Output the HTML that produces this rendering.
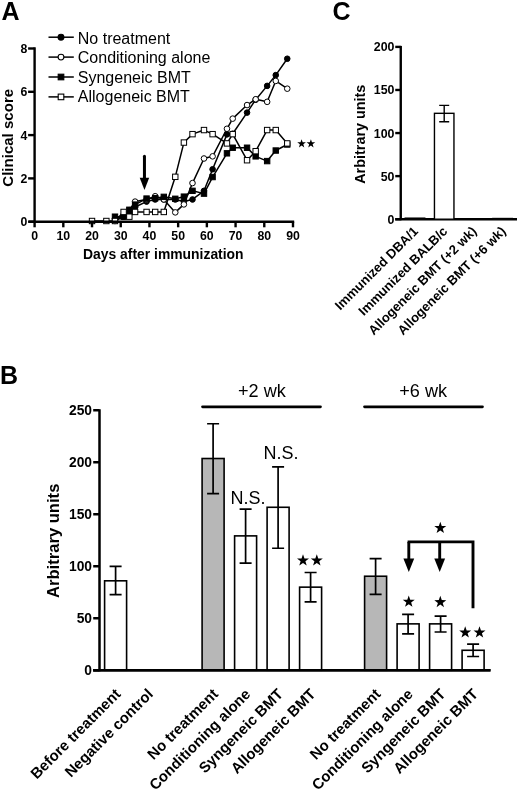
<!DOCTYPE html>
<html><head><meta charset="utf-8"><title>Figure</title>
<style>html,body{margin:0;padding:0;background:#fff;}svg{display:block;will-change:transform;}</style></head>
<body>
<svg width="520" height="791" viewBox="0 0 520 791">
<rect width="520" height="791" fill="#fff"/>
<text x="1.4" y="19.6" font-family="Liberation Sans, sans-serif" font-size="25" font-weight="bold">A</text>
<text x="163.30" y="259.30" font-family="Liberation Sans, sans-serif" font-size="13.9" font-weight="bold" text-anchor="middle">Days after immunization</text>
<text transform="translate(13.3,137.8) rotate(-90)" font-family="Liberation Sans, sans-serif" font-size="15.05" font-weight="bold" text-anchor="middle">Clinical score</text>
<polyline points="114.99,218.84 123.60,216.69 129.34,212.38 135.09,206.99 146.57,201.60 155.18,199.45 163.79,199.45 175.28,199.45 183.89,201.60 192.50,199.45 203.99,190.83 212.60,169.28 226.96,134.37 232.70,133.72 247.05,112.60 255.67,99.67 267.15,85.88 275.76,75.11 287.25,58.73" fill="none" stroke="#000" stroke-width="1.5" stroke-linejoin="round"/>
<circle cx="114.99" cy="218.84" r="2.8" fill="#000" stroke="#000" stroke-width="1"/>
<circle cx="123.60" cy="216.69" r="2.8" fill="#000" stroke="#000" stroke-width="1"/>
<circle cx="129.34" cy="212.38" r="2.8" fill="#000" stroke="#000" stroke-width="1"/>
<circle cx="135.09" cy="206.99" r="2.8" fill="#000" stroke="#000" stroke-width="1"/>
<circle cx="146.57" cy="201.60" r="2.8" fill="#000" stroke="#000" stroke-width="1"/>
<circle cx="155.18" cy="199.45" r="2.8" fill="#000" stroke="#000" stroke-width="1"/>
<circle cx="163.79" cy="199.45" r="2.8" fill="#000" stroke="#000" stroke-width="1"/>
<circle cx="175.28" cy="199.45" r="2.8" fill="#000" stroke="#000" stroke-width="1"/>
<circle cx="183.89" cy="201.60" r="2.8" fill="#000" stroke="#000" stroke-width="1"/>
<circle cx="192.50" cy="199.45" r="2.8" fill="#000" stroke="#000" stroke-width="1"/>
<circle cx="203.99" cy="190.83" r="2.8" fill="#000" stroke="#000" stroke-width="1"/>
<circle cx="212.60" cy="169.28" r="2.8" fill="#000" stroke="#000" stroke-width="1"/>
<circle cx="226.96" cy="134.37" r="2.8" fill="#000" stroke="#000" stroke-width="1"/>
<circle cx="232.70" cy="133.72" r="2.8" fill="#000" stroke="#000" stroke-width="1"/>
<circle cx="247.05" cy="112.60" r="2.8" fill="#000" stroke="#000" stroke-width="1"/>
<circle cx="255.67" cy="99.67" r="2.8" fill="#000" stroke="#000" stroke-width="1"/>
<circle cx="267.15" cy="85.88" r="2.8" fill="#000" stroke="#000" stroke-width="1"/>
<circle cx="275.76" cy="75.11" r="2.8" fill="#000" stroke="#000" stroke-width="1"/>
<circle cx="287.25" cy="58.73" r="2.8" fill="#000" stroke="#000" stroke-width="1"/>
<polyline points="114.99,221.00 123.60,216.69 129.34,210.22 135.09,201.60 146.57,199.45 155.18,196.22 163.79,199.45 175.28,212.38 183.89,204.41 192.50,183.07 203.99,158.50 212.60,156.35 226.96,128.77 232.70,118.64 247.05,105.06 255.67,99.24 267.15,101.83 275.76,80.92 287.25,88.68" fill="none" stroke="#000" stroke-width="1.5" stroke-linejoin="round"/>
<circle cx="114.99" cy="221.00" r="2.8" fill="#fff" stroke="#000" stroke-width="1"/>
<circle cx="123.60" cy="216.69" r="2.8" fill="#fff" stroke="#000" stroke-width="1"/>
<circle cx="129.34" cy="210.22" r="2.8" fill="#fff" stroke="#000" stroke-width="1"/>
<circle cx="135.09" cy="201.60" r="2.8" fill="#fff" stroke="#000" stroke-width="1"/>
<circle cx="146.57" cy="199.45" r="2.8" fill="#fff" stroke="#000" stroke-width="1"/>
<circle cx="155.18" cy="196.22" r="2.8" fill="#fff" stroke="#000" stroke-width="1"/>
<circle cx="163.79" cy="199.45" r="2.8" fill="#fff" stroke="#000" stroke-width="1"/>
<circle cx="175.28" cy="212.38" r="2.8" fill="#fff" stroke="#000" stroke-width="1"/>
<circle cx="183.89" cy="204.41" r="2.8" fill="#fff" stroke="#000" stroke-width="1"/>
<circle cx="192.50" cy="183.07" r="2.8" fill="#fff" stroke="#000" stroke-width="1"/>
<circle cx="203.99" cy="158.50" r="2.8" fill="#fff" stroke="#000" stroke-width="1"/>
<circle cx="212.60" cy="156.35" r="2.8" fill="#fff" stroke="#000" stroke-width="1"/>
<circle cx="226.96" cy="128.77" r="2.8" fill="#fff" stroke="#000" stroke-width="1"/>
<circle cx="232.70" cy="118.64" r="2.8" fill="#fff" stroke="#000" stroke-width="1"/>
<circle cx="247.05" cy="105.06" r="2.8" fill="#fff" stroke="#000" stroke-width="1"/>
<circle cx="255.67" cy="99.24" r="2.8" fill="#fff" stroke="#000" stroke-width="1"/>
<circle cx="267.15" cy="101.83" r="2.8" fill="#fff" stroke="#000" stroke-width="1"/>
<circle cx="275.76" cy="80.92" r="2.8" fill="#fff" stroke="#000" stroke-width="1"/>
<circle cx="287.25" cy="88.68" r="2.8" fill="#fff" stroke="#000" stroke-width="1"/>
<polyline points="114.99,216.69 123.60,216.69 129.34,209.79 135.09,204.62 146.57,198.59 155.18,198.16 163.79,196.86 175.28,198.80 183.89,196.65 192.50,190.83 203.99,193.63 212.60,177.04 226.96,153.33 232.70,147.73 247.05,147.73 255.67,156.35 267.15,161.09 275.76,150.53 287.25,144.50" fill="none" stroke="#000" stroke-width="1.5" stroke-linejoin="round"/>
<rect x="112.29" y="213.99" width="5.4" height="5.4" fill="#000" stroke="#000" stroke-width="1"/>
<rect x="120.90" y="213.99" width="5.4" height="5.4" fill="#000" stroke="#000" stroke-width="1"/>
<rect x="126.64" y="207.09" width="5.4" height="5.4" fill="#000" stroke="#000" stroke-width="1"/>
<rect x="132.39" y="201.92" width="5.4" height="5.4" fill="#000" stroke="#000" stroke-width="1"/>
<rect x="143.87" y="195.89" width="5.4" height="5.4" fill="#000" stroke="#000" stroke-width="1"/>
<rect x="152.48" y="195.46" width="5.4" height="5.4" fill="#000" stroke="#000" stroke-width="1"/>
<rect x="161.09" y="194.16" width="5.4" height="5.4" fill="#000" stroke="#000" stroke-width="1"/>
<rect x="172.58" y="196.10" width="5.4" height="5.4" fill="#000" stroke="#000" stroke-width="1"/>
<rect x="181.19" y="193.95" width="5.4" height="5.4" fill="#000" stroke="#000" stroke-width="1"/>
<rect x="189.81" y="188.13" width="5.4" height="5.4" fill="#000" stroke="#000" stroke-width="1"/>
<rect x="201.29" y="190.93" width="5.4" height="5.4" fill="#000" stroke="#000" stroke-width="1"/>
<rect x="209.90" y="174.34" width="5.4" height="5.4" fill="#000" stroke="#000" stroke-width="1"/>
<rect x="224.26" y="150.63" width="5.4" height="5.4" fill="#000" stroke="#000" stroke-width="1"/>
<rect x="230.00" y="145.03" width="5.4" height="5.4" fill="#000" stroke="#000" stroke-width="1"/>
<rect x="244.35" y="145.03" width="5.4" height="5.4" fill="#000" stroke="#000" stroke-width="1"/>
<rect x="252.97" y="153.65" width="5.4" height="5.4" fill="#000" stroke="#000" stroke-width="1"/>
<rect x="264.45" y="158.39" width="5.4" height="5.4" fill="#000" stroke="#000" stroke-width="1"/>
<rect x="273.06" y="147.83" width="5.4" height="5.4" fill="#000" stroke="#000" stroke-width="1"/>
<rect x="284.55" y="141.80" width="5.4" height="5.4" fill="#000" stroke="#000" stroke-width="1"/>
<polyline points="92.02,221.00 106.38,221.00 114.99,221.00 123.60,211.95 129.34,216.69 135.09,211.95 146.57,211.95 155.18,211.95 163.79,211.95 175.28,176.82 183.89,142.56 192.50,134.15 203.99,130.06 212.60,134.15 226.96,143.42 232.70,134.15 247.05,160.23 255.67,151.18 267.15,130.06 275.76,130.06 287.25,143.42" fill="none" stroke="#000" stroke-width="1.5" stroke-linejoin="round"/>
<rect x="89.32" y="218.30" width="5.4" height="5.4" fill="#fff" stroke="#000" stroke-width="1"/>
<rect x="103.67" y="218.30" width="5.4" height="5.4" fill="#fff" stroke="#000" stroke-width="1"/>
<rect x="112.29" y="218.30" width="5.4" height="5.4" fill="#fff" stroke="#000" stroke-width="1"/>
<rect x="120.90" y="209.25" width="5.4" height="5.4" fill="#fff" stroke="#000" stroke-width="1"/>
<rect x="126.64" y="213.99" width="5.4" height="5.4" fill="#fff" stroke="#000" stroke-width="1"/>
<rect x="132.39" y="209.25" width="5.4" height="5.4" fill="#fff" stroke="#000" stroke-width="1"/>
<rect x="143.87" y="209.25" width="5.4" height="5.4" fill="#fff" stroke="#000" stroke-width="1"/>
<rect x="152.48" y="209.25" width="5.4" height="5.4" fill="#fff" stroke="#000" stroke-width="1"/>
<rect x="161.09" y="209.25" width="5.4" height="5.4" fill="#fff" stroke="#000" stroke-width="1"/>
<rect x="172.58" y="174.12" width="5.4" height="5.4" fill="#fff" stroke="#000" stroke-width="1"/>
<rect x="181.19" y="139.86" width="5.4" height="5.4" fill="#fff" stroke="#000" stroke-width="1"/>
<rect x="189.81" y="131.45" width="5.4" height="5.4" fill="#fff" stroke="#000" stroke-width="1"/>
<rect x="201.29" y="127.36" width="5.4" height="5.4" fill="#fff" stroke="#000" stroke-width="1"/>
<rect x="209.90" y="131.45" width="5.4" height="5.4" fill="#fff" stroke="#000" stroke-width="1"/>
<rect x="224.26" y="140.72" width="5.4" height="5.4" fill="#fff" stroke="#000" stroke-width="1"/>
<rect x="230.00" y="131.45" width="5.4" height="5.4" fill="#fff" stroke="#000" stroke-width="1"/>
<rect x="244.35" y="157.53" width="5.4" height="5.4" fill="#fff" stroke="#000" stroke-width="1"/>
<rect x="252.97" y="148.48" width="5.4" height="5.4" fill="#fff" stroke="#000" stroke-width="1"/>
<rect x="264.45" y="127.36" width="5.4" height="5.4" fill="#fff" stroke="#000" stroke-width="1"/>
<rect x="273.06" y="127.36" width="5.4" height="5.4" fill="#fff" stroke="#000" stroke-width="1"/>
<rect x="284.55" y="140.72" width="5.4" height="5.4" fill="#fff" stroke="#000" stroke-width="1"/>
<path d="M34.60 47.30 V222.90" stroke="#000" stroke-width="2.4" fill="none"/>
<path d="M28.60 221.70 H294.19" stroke="#000" stroke-width="2.4" fill="none"/>
<path d="M28.10 221.70 H34.60" stroke="#000" stroke-width="2.4"/>
<text x="27.30" y="226.10" font-family="Liberation Sans, sans-serif" font-size="12.3" font-weight="bold" text-anchor="end">0</text>
<path d="M28.10 178.40 H34.60" stroke="#000" stroke-width="2.4"/>
<text x="27.30" y="182.80" font-family="Liberation Sans, sans-serif" font-size="12.3" font-weight="bold" text-anchor="end">2</text>
<path d="M28.10 135.10 H34.60" stroke="#000" stroke-width="2.4"/>
<text x="27.30" y="139.50" font-family="Liberation Sans, sans-serif" font-size="12.3" font-weight="bold" text-anchor="end">4</text>
<path d="M28.10 91.80 H34.60" stroke="#000" stroke-width="2.4"/>
<text x="27.30" y="96.20" font-family="Liberation Sans, sans-serif" font-size="12.3" font-weight="bold" text-anchor="end">6</text>
<path d="M28.10 48.50 H34.60" stroke="#000" stroke-width="2.4"/>
<text x="27.30" y="52.90" font-family="Liberation Sans, sans-serif" font-size="12.3" font-weight="bold" text-anchor="end">8</text>
<path d="M34.60 221.70 V227.30" stroke="#000" stroke-width="2.4"/>
<text x="34.60" y="240.20" font-family="Liberation Sans, sans-serif" font-size="12.3" font-weight="bold" text-anchor="middle">0</text>
<path d="M63.31 221.70 V227.30" stroke="#000" stroke-width="2.4"/>
<text x="63.31" y="240.20" font-family="Liberation Sans, sans-serif" font-size="12.3" font-weight="bold" text-anchor="middle">10</text>
<path d="M92.02 221.70 V227.30" stroke="#000" stroke-width="2.4"/>
<text x="92.02" y="240.20" font-family="Liberation Sans, sans-serif" font-size="12.3" font-weight="bold" text-anchor="middle">20</text>
<path d="M120.73 221.70 V227.30" stroke="#000" stroke-width="2.4"/>
<text x="120.73" y="240.20" font-family="Liberation Sans, sans-serif" font-size="12.3" font-weight="bold" text-anchor="middle">30</text>
<path d="M149.44 221.70 V227.30" stroke="#000" stroke-width="2.4"/>
<text x="149.44" y="240.20" font-family="Liberation Sans, sans-serif" font-size="12.3" font-weight="bold" text-anchor="middle">40</text>
<path d="M178.15 221.70 V227.30" stroke="#000" stroke-width="2.4"/>
<text x="178.15" y="240.20" font-family="Liberation Sans, sans-serif" font-size="12.3" font-weight="bold" text-anchor="middle">50</text>
<path d="M206.86 221.70 V227.30" stroke="#000" stroke-width="2.4"/>
<text x="206.86" y="240.20" font-family="Liberation Sans, sans-serif" font-size="12.3" font-weight="bold" text-anchor="middle">60</text>
<path d="M235.57 221.70 V227.30" stroke="#000" stroke-width="2.4"/>
<text x="235.57" y="240.20" font-family="Liberation Sans, sans-serif" font-size="12.3" font-weight="bold" text-anchor="middle">70</text>
<path d="M264.28 221.70 V227.30" stroke="#000" stroke-width="2.4"/>
<text x="264.28" y="240.20" font-family="Liberation Sans, sans-serif" font-size="12.3" font-weight="bold" text-anchor="middle">80</text>
<path d="M292.99 221.70 V227.30" stroke="#000" stroke-width="2.4"/>
<text x="292.99" y="240.20" font-family="Liberation Sans, sans-serif" font-size="12.3" font-weight="bold" text-anchor="middle">90</text>
<path d="M48.5 37.20 H73.8" stroke="#000" stroke-width="1.5"/>
<circle cx="61" cy="37.20" r="2.9" fill="#000" stroke="#000" stroke-width="1.1"/>
<text x="77.8" y="43.50" font-family="Liberation Sans, sans-serif" font-size="16">No treatment</text>
<path d="M48.5 57.10 H73.8" stroke="#000" stroke-width="1.5"/>
<circle cx="61" cy="57.10" r="2.9" fill="#fff" stroke="#000" stroke-width="1.1"/>
<text x="77.8" y="63.15" font-family="Liberation Sans, sans-serif" font-size="16">Conditioning alone</text>
<path d="M48.5 77.00 H73.8" stroke="#000" stroke-width="1.5"/>
<rect x="58.2" y="74.20" width="5.6" height="5.6" fill="#000" stroke="#000" stroke-width="1.1"/>
<text x="77.8" y="82.80" font-family="Liberation Sans, sans-serif" font-size="16">Syngeneic BMT</text>
<path d="M48.5 96.90 H73.8" stroke="#000" stroke-width="1.5"/>
<rect x="58.2" y="94.10" width="5.6" height="5.6" fill="#fff" stroke="#000" stroke-width="1.1"/>
<text x="77.8" y="102.45" font-family="Liberation Sans, sans-serif" font-size="16">Allogeneic BMT</text>
<path d="M144.45 156.2 V179" stroke="#000" stroke-width="3" stroke-linecap="round"/>
<polygon points="139.7,177.7 149.2,177.7 144.45,190" fill="#000"/>
<polygon points="301.60,139.15 302.67,142.23 305.93,142.29 303.33,144.26 304.27,147.38 301.60,145.52 298.93,147.38 299.87,144.26 297.27,142.29 300.53,142.23" fill="#000"/>
<polygon points="310.90,139.15 311.97,142.23 315.23,142.29 312.63,144.26 313.57,147.38 310.90,145.52 308.23,147.38 309.17,144.26 306.57,142.29 309.83,142.23" fill="#000"/>
<text x="332.6" y="19.5" font-family="Liberation Sans, sans-serif" font-size="25" font-weight="bold">C</text>
<path d="M400.75 45.90 V220.20" stroke="#000" stroke-width="2.4"/>
<path d="M395.25 219.20 H517.00" stroke="#000" stroke-width="2.4"/>
<path d="M395.25 219.20 H400.75" stroke="#000" stroke-width="2.4"/>
<text x="394.45" y="223.70" font-family="Liberation Sans, sans-serif" font-size="12.4" font-weight="bold" text-anchor="end">0</text>
<path d="M395.25 176.12 H400.75" stroke="#000" stroke-width="2.4"/>
<text x="394.45" y="180.62" font-family="Liberation Sans, sans-serif" font-size="12.4" font-weight="bold" text-anchor="end">50</text>
<path d="M395.25 133.05 H400.75" stroke="#000" stroke-width="2.4"/>
<text x="394.45" y="137.55" font-family="Liberation Sans, sans-serif" font-size="12.4" font-weight="bold" text-anchor="end">100</text>
<path d="M395.25 89.97 H400.75" stroke="#000" stroke-width="2.4"/>
<text x="394.45" y="94.47" font-family="Liberation Sans, sans-serif" font-size="12.4" font-weight="bold" text-anchor="end">150</text>
<path d="M395.25 46.90 H400.75" stroke="#000" stroke-width="2.4"/>
<text x="394.45" y="51.40" font-family="Liberation Sans, sans-serif" font-size="12.4" font-weight="bold" text-anchor="end">200</text>
<text transform="translate(365.4,134.2) rotate(-90)" font-family="Liberation Sans, sans-serif" font-size="14.4" font-weight="bold" text-anchor="middle">Arbitrary units</text>
<rect x="405.25" y="218.17" width="19.5" height="1.03" fill="#fff" stroke="#000" stroke-width="1.4"/>
<rect x="434.45" y="113.32" width="19.5" height="105.88" fill="#fff" stroke="#000" stroke-width="1.4"/>
<rect x="492.85" y="218.51" width="19.5" height="0.69" fill="#fff" stroke="#000" stroke-width="1.4"/>
<path d="M444.2 105.40 V121.68 M439.2 105.40 H449.2 M439.2 121.68 H449.2" stroke="#000" stroke-width="1.4" fill="none"/>
<text transform="translate(419.00,232.00) rotate(-45)" font-family="Liberation Sans, sans-serif" font-size="13.1" font-weight="bold" text-anchor="end">Immunized DBA/1</text>
<text transform="translate(448.20,232.00) rotate(-45)" font-family="Liberation Sans, sans-serif" font-size="13.1" font-weight="bold" text-anchor="end">Immunized BALB/c</text>
<text transform="translate(477.40,232.00) rotate(-45)" font-family="Liberation Sans, sans-serif" font-size="13.1" font-weight="bold" text-anchor="end">Allogeneic BMT (+2 wk)</text>
<text transform="translate(506.60,232.00) rotate(-45)" font-family="Liberation Sans, sans-serif" font-size="13.1" font-weight="bold" text-anchor="end">Allogeneic BMT (+6 wk)</text>
<text x="0" y="383.8" font-family="Liberation Sans, sans-serif" font-size="25" font-weight="bold">B</text>
<path d="M99.50 409.25 V671.25" stroke="#000" stroke-width="2.5"/>
<path d="M93.20 670.25 H490.50" stroke="#000" stroke-width="2.5"/>
<path d="M93.20 670.25 H99.50" stroke="#000" stroke-width="2.5"/>
<text x="92.00" y="675.15" font-family="Liberation Sans, sans-serif" font-size="13.8" font-weight="bold" text-anchor="end">0</text>
<path d="M93.20 618.25 H99.50" stroke="#000" stroke-width="2.5"/>
<text x="92.00" y="623.15" font-family="Liberation Sans, sans-serif" font-size="13.8" font-weight="bold" text-anchor="end">50</text>
<path d="M93.20 566.25 H99.50" stroke="#000" stroke-width="2.5"/>
<text x="92.00" y="571.15" font-family="Liberation Sans, sans-serif" font-size="13.8" font-weight="bold" text-anchor="end">100</text>
<path d="M93.20 514.25 H99.50" stroke="#000" stroke-width="2.5"/>
<text x="92.00" y="519.15" font-family="Liberation Sans, sans-serif" font-size="13.8" font-weight="bold" text-anchor="end">150</text>
<path d="M93.20 462.25 H99.50" stroke="#000" stroke-width="2.5"/>
<text x="92.00" y="467.15" font-family="Liberation Sans, sans-serif" font-size="13.8" font-weight="bold" text-anchor="end">200</text>
<path d="M93.20 410.25 H99.50" stroke="#000" stroke-width="2.5"/>
<text x="92.00" y="415.15" font-family="Liberation Sans, sans-serif" font-size="13.8" font-weight="bold" text-anchor="end">250</text>
<text transform="translate(59.2,540.8) rotate(-90)" font-family="Liberation Sans, sans-serif" font-size="16.6" font-weight="bold" text-anchor="middle">Arbitrary units</text>
<rect x="104.60" y="580.81" width="22" height="89.44" fill="#fff" stroke="#000" stroke-width="1.6"/>
<path d="M115.60 566.46 V594.54 M109.60 566.46 H121.60 M109.60 594.54 H121.60" stroke="#000" stroke-width="1.7" fill="none"/>
<text transform="translate(121.50,695.00) rotate(-45)" font-family="Liberation Sans, sans-serif" font-size="15" font-weight="bold" text-anchor="end">Before treatment</text>
<text transform="translate(154.00,695.00) rotate(-45)" font-family="Liberation Sans, sans-serif" font-size="15" font-weight="bold" text-anchor="end">Negative control</text>
<rect x="202.10" y="458.51" width="22" height="211.74" fill="#b7b7b7" stroke="#000" stroke-width="1.6"/>
<path d="M213.10 423.77 V493.66 M207.10 423.77 H219.10 M207.10 493.66 H219.10" stroke="#000" stroke-width="1.7" fill="none"/>
<text transform="translate(219.00,695.00) rotate(-45)" font-family="Liberation Sans, sans-serif" font-size="15" font-weight="bold" text-anchor="end">No treatment</text>
<rect x="234.60" y="535.88" width="22" height="134.37" fill="#fff" stroke="#000" stroke-width="1.6"/>
<path d="M245.60 509.05 V563.13 M239.60 509.05 H251.60 M239.60 563.13 H251.60" stroke="#000" stroke-width="1.7" fill="none"/>
<text transform="translate(251.50,695.00) rotate(-45)" font-family="Liberation Sans, sans-serif" font-size="15" font-weight="bold" text-anchor="end">Conditioning alone</text>
<rect x="267.10" y="507.28" width="22" height="162.97" fill="#fff" stroke="#000" stroke-width="1.6"/>
<path d="M278.10 466.93 V548.26 M272.10 466.93 H284.10 M272.10 548.26 H284.10" stroke="#000" stroke-width="1.7" fill="none"/>
<text transform="translate(284.00,695.00) rotate(-45)" font-family="Liberation Sans, sans-serif" font-size="15" font-weight="bold" text-anchor="end">Syngeneic BMT</text>
<rect x="299.60" y="587.15" width="22" height="83.10" fill="#fff" stroke="#000" stroke-width="1.6"/>
<path d="M310.60 572.49 V601.82 M304.60 572.49 H316.60 M304.60 601.82 H316.60" stroke="#000" stroke-width="1.7" fill="none"/>
<text transform="translate(316.50,695.00) rotate(-45)" font-family="Liberation Sans, sans-serif" font-size="15" font-weight="bold" text-anchor="end">Allogeneic BMT</text>
<rect x="364.60" y="576.23" width="22" height="94.02" fill="#b7b7b7" stroke="#000" stroke-width="1.6"/>
<path d="M375.60 558.66 V594.33 M369.60 558.66 H381.60 M369.60 594.33 H381.60" stroke="#000" stroke-width="1.7" fill="none"/>
<text transform="translate(381.50,695.00) rotate(-45)" font-family="Liberation Sans, sans-serif" font-size="15" font-weight="bold" text-anchor="end">No treatment</text>
<rect x="397.10" y="623.87" width="22" height="46.38" fill="#fff" stroke="#000" stroke-width="1.6"/>
<path d="M408.10 614.30 V633.85 M402.10 614.30 H414.10 M402.10 633.85 H414.10" stroke="#000" stroke-width="1.7" fill="none"/>
<text transform="translate(414.00,695.00) rotate(-45)" font-family="Liberation Sans, sans-serif" font-size="15" font-weight="bold" text-anchor="end">Conditioning alone</text>
<rect x="429.60" y="623.87" width="22" height="46.38" fill="#fff" stroke="#000" stroke-width="1.6"/>
<path d="M440.60 616.17 V631.98 M434.60 616.17 H446.60 M434.60 631.98 H446.60" stroke="#000" stroke-width="1.7" fill="none"/>
<text transform="translate(446.50,695.00) rotate(-45)" font-family="Liberation Sans, sans-serif" font-size="15" font-weight="bold" text-anchor="end">Syngeneic BMT</text>
<rect x="462.10" y="650.28" width="22" height="19.97" fill="#fff" stroke="#000" stroke-width="1.6"/>
<path d="M473.10 644.04 V656.52 M467.10 644.04 H479.10 M467.10 656.52 H479.10" stroke="#000" stroke-width="1.7" fill="none"/>
<text transform="translate(479.00,695.00) rotate(-45)" font-family="Liberation Sans, sans-serif" font-size="15" font-weight="bold" text-anchor="end">Allogeneic BMT</text>
<path d="M93.20 670.25 H490.50" stroke="#000" stroke-width="2.5"/>
<path d="M202.5 406.8 H320.5" stroke="#000" stroke-width="2.7" stroke-linecap="round"/>
<path d="M364.5 406.8 H482.5" stroke="#000" stroke-width="2.7" stroke-linecap="round"/>
<text x="261.9" y="397.1" font-family="Liberation Sans, sans-serif" font-size="18.1" text-anchor="middle">+2 wk</text>
<text x="423.2" y="397.1" font-family="Liberation Sans, sans-serif" font-size="18.1" text-anchor="middle">+6 wk</text>
<text x="248" y="503.8" font-family="Liberation Sans, sans-serif" font-size="18" text-anchor="middle">N.S.</text>
<text x="281" y="459.3" font-family="Liberation Sans, sans-serif" font-size="18" text-anchor="middle">N.S.</text>
<polygon points="303.00,554.15 304.48,558.41 308.99,558.50 305.40,561.23 306.70,565.55 303.00,562.97 299.30,565.55 300.60,561.23 297.01,558.50 301.52,558.41" fill="#000"/>
<polygon points="316.80,554.15 318.28,558.41 322.79,558.50 319.20,561.23 320.50,565.55 316.80,562.97 313.10,565.55 314.40,561.23 310.81,558.50 315.32,558.41" fill="#000"/>
<path d="M407.6 541.9 H473 V608.3" stroke="#000" stroke-width="2.9" fill="none" stroke-linejoin="miter"/>
<path d="M408.80 541.9 V561" stroke="#000" stroke-width="2.9"/>
<polygon points="403.40,558.6 414.20,558.6 408.80,572" fill="#000"/>
<path d="M439.70 541.9 V561" stroke="#000" stroke-width="2.9"/>
<polygon points="434.30,558.6 445.10,558.6 439.70,572" fill="#000"/>
<polygon points="440.30,521.70 441.78,525.96 446.29,526.05 442.70,528.78 444.00,533.10 440.30,530.52 436.60,533.10 437.90,528.78 434.31,526.05 438.82,525.96" fill="#000"/>
<polygon points="408.75,595.40 410.23,599.66 414.74,599.75 411.15,602.48 412.45,606.80 408.75,604.22 405.05,606.80 406.35,602.48 402.76,599.75 407.27,599.66" fill="#000"/>
<polygon points="440.30,595.80 441.78,600.06 446.29,600.15 442.70,602.88 444.00,607.20 440.30,604.62 436.60,607.20 437.90,602.88 434.31,600.15 438.82,600.06" fill="#000"/>
<polygon points="465.20,626.20 466.68,630.46 471.19,630.55 467.60,633.28 468.90,637.60 465.20,635.02 461.50,637.60 462.80,633.28 459.21,630.55 463.72,630.46" fill="#000"/>
<polygon points="479.50,626.20 480.98,630.46 485.49,630.55 481.90,633.28 483.20,637.60 479.50,635.02 475.80,637.60 477.10,633.28 473.51,630.55 478.02,630.46" fill="#000"/>
</svg>
</body></html>
